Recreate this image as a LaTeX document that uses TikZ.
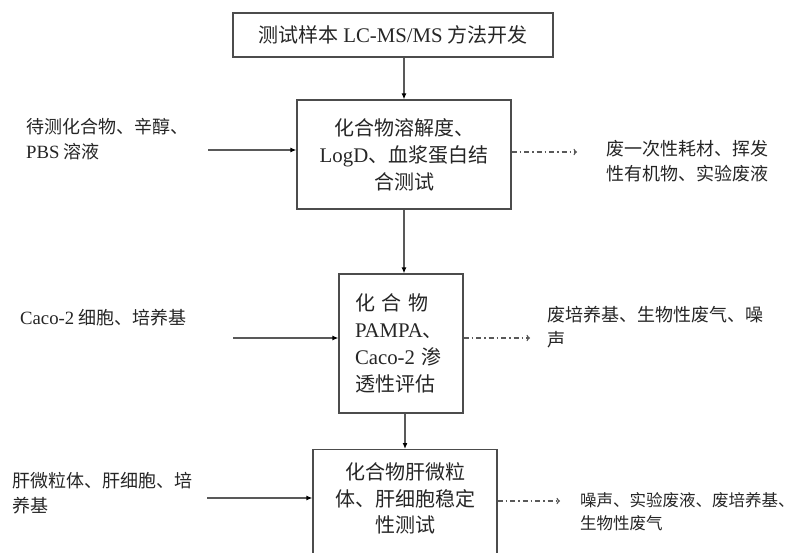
\documentclass[tikz,border=0pt]{standalone}
\usepackage{fontspec}
\setmainfont{Noto Sans CJK SC}
\newfontfamily\tnr[Scale=1.04]{Liberation Serif}
\usetikzlibrary{arrows.meta}

\begin{document}
\begin{tikzpicture}[x=1pt, y=-1pt,
    procbox/.style={rectangle, draw=black!70, line width=1.2pt, align=center, inner sep=0pt, text=black!85, font=\fontsize{20}{27}\selectfont},
    side/.style={anchor=west, align=left, inner sep=0pt, text=black!85, font=\fontsize{18}{25}\selectfont},
    feed/.style={-{Latex[length=6pt,width=5pt,black]}, line width=1.4pt, black!65},
    waste/.style={-{To[length=3.5pt,width=6.5pt]}, line width=1.2pt, black!65, dash pattern=on 5pt off 3pt on 1.5pt off 3pt}]

\clip (0,0) rectangle (797,553);
\fill[white] (0,0) rectangle (797,553);

\node[procbox, minimum width=320, minimum height=44] (dev) at (393,35) {测试样本 {\tnr LC-MS/MS} 方法开发};
\node[procbox, minimum width=214, minimum height=109] (sol) at (404,154.5) {化合物溶解度、\\{\tnr LogD}、血浆蛋白结\\合测试};
\node[procbox, minimum width=124, minimum height=139, text width=92pt, align=left] (perm) at (401,343.5) {\makebox[92pt][s]{化 合 物}\\{\tnr PAMPA}、\\\makebox[92pt][s]{{\tnr Caco-2} 渗}\\透性评估};
\node[procbox, minimum width=184, minimum height=140, anchor=north] (stab) at (405,449) {};
\node[procbox, draw=none, font=\fontsize{20}{26.5}\selectfont] (stabtxt) at (405,498.5) {化合物肝微粒\\体、肝细胞稳定\\性测试};

\node[side] (mat1) at (26,139.5) {待测化合物、辛醇、\\{\tnr PBS} 溶液};
\node[side] (mat2) at (20,318) {{\tnr Caco-2} 细胞、培养基};
\node[side] (mat3) at (12,493.5) {肝微粒体、肝细胞、培\\养基};
\node[side] (was1) at (606,161.5) {废一次性耗材、挥发\\性有机物、实验废液};
\node[side] (was2) at (547,327.5) {废培养基、生物性废气、噪\\声};
\node[side, font=\fontsize{16.5}{23}\selectfont] (was3) at (580,512) {噪声、实验废液、废培养基、\\生物性废气};

\coordinate (in1) at (208,150);
\coordinate (in2) at (233,338);
\coordinate (in3) at (207,498);
\coordinate (out1) at (577,152);
\coordinate (out2) at (530,338);
\coordinate (out3) at (560,501);

\draw[feed] (dev.south -| sol) -- (sol);
\draw[feed] (sol.south) -- (sol.south |- perm.north);
\draw[feed] (perm.south -| stab.north) -- (stab.north);
\draw[feed] (in1) -- (in1 -| sol.west);
\draw[feed] (in2) -- (in2 -| perm.west);
\draw[feed] (in3) -- (in3 -| stab.west);
\draw[waste] (out1 -| sol.east) -- (out1);
\draw[waste] (out2 -| perm.east) -- (out2);
\draw[waste] (out3 -| stab.east) -- (out3);
\end{tikzpicture}
\end{document}
